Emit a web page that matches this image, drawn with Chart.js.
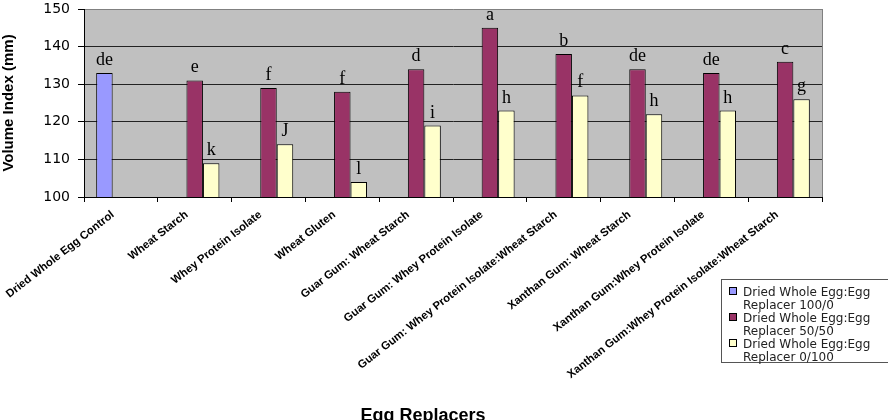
<!DOCTYPE html>
<html>
<head>
<meta charset="utf-8">
<script src="https://cdn.jsdelivr.net/npm/chart.js@4.4.1/dist/chart.umd.min.js"></script>
<style>
  html, body { margin: 0; padding: 0; background: #ffffff; }
  #wrap { width: 888px; height: 420px; position: relative; }
</style>
</head>
<body>
<div id="wrap"><canvas id="c" width="888" height="420"></canvas></div>
<script>
const categories = [
  "Dried Whole Egg Control",
  "Wheat Starch",
  "Whey Protein Isolate",
  "Wheat Gluten",
  "Guar Gum: Wheat Starch",
  "Guar Gum: Whey Protein Isolate",
  "Guar Gum: Whey Protein Isolate:Wheat Starch",
  "Xanthan Gum: Wheat Starch",
  "Xanthan Gum:Whey Protein Isolate",
  "Xanthan Gum:Whey Protein Isolate:Wheat Starch"
];
const seriesNames = [
  ["Dried Whole Egg:Egg", "Replacer 100/0"],
  ["Dried Whole Egg:Egg", "Replacer 50/50"],
  ["Dried Whole Egg:Egg", "Replacer 0/100"]
];
const ratio100_0 = [133, null, null, null, null, null, null, null, null, null];
const ratio50_50 = [null, 131, 129, 128, 134, 145, 138, 134, 133, 136];
const ratio0_100 = [null, 109, 114, 104, 119, 123, 127, 122, 123, 126];
const letters100_0 = ["de", "", "", "", "", "", "", "", "", ""];
const letters50_50 = ["", "e", "f", "f", "d", "a", "b", "de", "de", "c"];
const letters0_100 = ["", "k", "J", "l", "i", "h", "f", "h", "h", "g"];
const yTicks = [100, 110, 120, 130, 140, 150];
const xTitle = "Egg Replacers";
const yTitle = "Volume Index (mm)";

const colors = ["#9999ff", "#993366", "#ffffcc"];
const allLetters = [letters100_0, letters50_50, letters0_100];

const bgPlugin = {
  id: 'bg',
  beforeDraw(chart) {
    const { ctx, chartArea: a } = chart;
    ctx.save();
    ctx.fillStyle = '#c0c0c0';
    ctx.fillRect(a.left, a.top, a.right - a.left, a.bottom - a.top);
    ctx.restore();
  },
  afterDraw(chart) {
    const { ctx, chartArea: a } = chart;
    ctx.save();
    ctx.strokeStyle = '#808080';
    ctx.lineWidth = 1;
    ctx.beginPath();
    ctx.moveTo(Math.round(a.right) + 0.5, a.top);
    ctx.lineTo(Math.round(a.right) + 0.5, a.bottom);
    ctx.stroke();

    ctx.fillStyle = '#000';
    ctx.font = '18px "Liberation Serif", "Times New Roman", serif';
    ctx.textAlign = 'center';
    ctx.textBaseline = 'alphabetic';
    chart.data.datasets.forEach((ds, di) => {
      const meta = chart.getDatasetMeta(di);
      meta.data.forEach((bar, i) => {
        const t = allLetters[di][i];
        if (!t || ds.data[i] == null) return;
        ctx.fillText(t, bar.x, bar.y - 8);
      });
    });

    ctx.font = 'bold 18px "Liberation Sans", Arial, sans-serif';
    ctx.textAlign = 'center';
    ctx.fillText(xTitle, 423, 421);

    const lx = 721, ly = 279, lw = 180, lh = 83;
    ctx.fillStyle = '#ffffff';
    ctx.fillRect(lx, ly, lw, lh);
    ctx.strokeStyle = '#555';
    ctx.strokeRect(lx + 0.5, ly + 0.5, lw, lh);
    ctx.font = '12px "DejaVu Sans", sans-serif';
    ctx.textAlign = 'left';
    seriesNames.forEach((lines, k) => {
      const base = 296 + k * 26;
      ctx.fillStyle = colors[k];
      ctx.fillRect(730, base - 8, 6, 6);
      ctx.strokeStyle = '#000';
      ctx.strokeRect(729.5, base - 8.5, 7, 7);
      ctx.fillStyle = '#222';
      ctx.fillText(lines[0], 743, base);
      ctx.fillText(lines[1], 743, base + 13);
    });
    ctx.restore();
  }
};

new Chart(document.getElementById('c'), {
  type: 'bar',
  data: {
    labels: categories,
    datasets: [ratio100_0, ratio50_50, ratio0_100].map((d, k) => ({
      label: seriesNames[k].join(' '),
      data: d,
      backgroundColor: colors[k],
      borderColor: '#000',
      borderWidth: 1,
      categoryPercentage: 0.67,
      barPercentage: 1.0
    }))
  },
  options: {
    responsive: false,
    animation: false,
    layout: { padding: { left: 0, right: 66, top: 9, bottom: 0 } },
    plugins: { legend: { display: false }, tooltip: { enabled: false } },
    scales: {
      x: {
        grid: { offset: true, drawOnChartArea: false, drawTicks: true, tickLength: 5, tickColor: '#000' },
        border: { color: '#000' },
        ticks: {
          autoSkip: false, maxRotation: 38, minRotation: 38, padding: 6, labelOffset: -8,
          color: '#000',
          font: { family: '"Liberation Sans", Arial, sans-serif', size: 11.3, weight: 'bold' }
        },
        afterFit(s) { s.height = 223; s.paddingLeft = 0; s.paddingRight = 0; }
      },
      y: {
        min: 100, max: 150,
        afterBuildTicks(s) { s.ticks = yTicks.map(v => ({ value: v })); },
        grid: {
          color: (c) => (c.tick && c.tick.value === 150) ? '#808080' : '#222',
          tickColor: '#000', tickLength: 6
        },
        border: { color: '#000' },
        ticks: {
          padding: 8, color: '#000',
          font: { family: '"DejaVu Sans", sans-serif', size: 14 }
        },
        title: {
          display: true, text: yTitle, color: '#000', padding: { top: 0, bottom: 0 },
          font: { family: '"Liberation Sans", Arial, sans-serif', size: 15, weight: 'bold' }
        },
        afterFit(s) { s.width = 84; s.paddingTop = 0; s.paddingBottom = 0; }
      }
    }
  },
  plugins: [bgPlugin]
});
</script>
</body>
</html>
